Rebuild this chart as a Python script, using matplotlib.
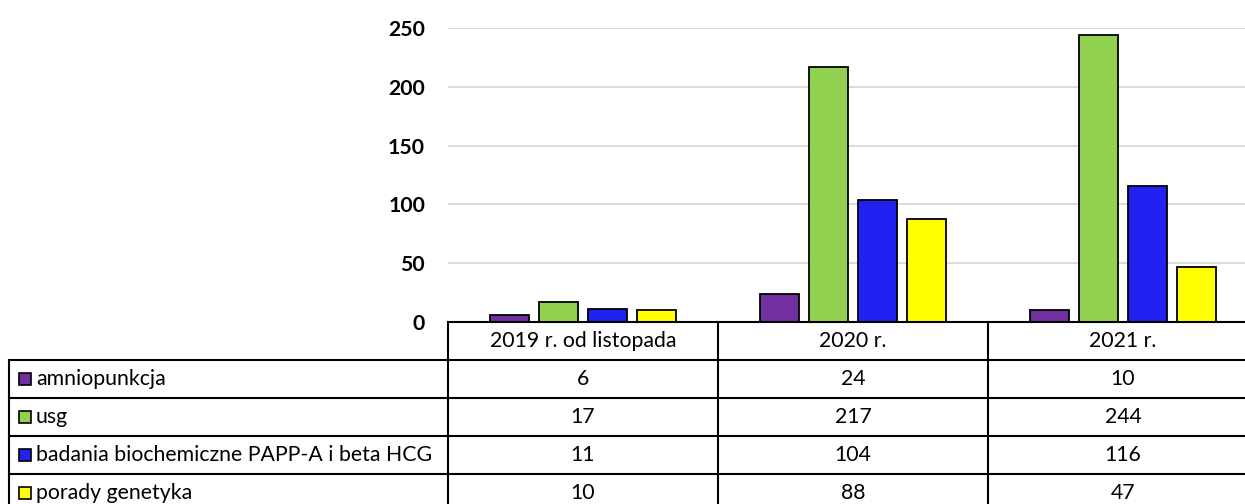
import matplotlib.pyplot as plt
from matplotlib.lines import Line2D
from matplotlib.patches import Rectangle
import numpy as np

plt.rcParams['font.family'] = ['Lato', 'DejaVu Sans']

categories = ["2019 r. od listopada", "2020 r.", "2021 r."]
series_names = ["amniopunkcja", "usg", "badania biochemiczne PAPP-A i beta HCG", "porady genetyka"]
amniopunkcja = [6, 24, 10]
usg = [17, 217, 244]
badania = [11, 104, 116]
porady = [10, 88, 47]
series = [amniopunkcja, usg, badania, porady]
colors = ["#7030A0", "#92D050", "#2121F2", "#FFFF00"]

W, H = 1245, 504
fig = plt.figure(figsize=(W / 100, H / 100), dpi=100)

# plot area in pixels (right edge runs past the image like in the original)
x0, x1 = 448, 1258
y_top, y_zero = 28, 322
ax = fig.add_axes([x0 / W, 1 - y_zero / H, (x1 - x0) / W, (y_zero - y_top) / H])

n = len(series)
bw = 39 / 270
step = 49 / 270
x = np.arange(len(categories))
for i, (vals, c) in enumerate(zip(series, colors)):
    ax.bar(x + (i - (n - 1) / 2) * step, vals, width=bw, color=c,
           edgecolor="black", linewidth=1.3, zorder=3)

ax.set_xlim(-0.5, len(categories) - 0.5)
ax.set_ylim(0, 250)
ax.set_yticks(range(0, 251, 50))
ax.set_xticks([])
ax.yaxis.grid(True, color="#D9D9D9", linewidth=1.3, zorder=0)
for s in ax.spines.values():
    s.set_visible(False)
ax.tick_params(axis="y", length=0, pad=16.5, labelsize=15.3)
for lab in ax.get_yticklabels():
    lab.set_fontweight("bold")

# data table drawn underneath the plot
def fx(px):
    return px / W

def fy(py):
    return 1 - py / H

def hline(xa, xb, py):
    fig.add_artist(Line2D([fx(xa), fx(xb)], [fy(py), fy(py)], color="black",
                          linewidth=1.5, transform=fig.transFigure))

def vline(px, ya, yb):
    fig.add_artist(Line2D([fx(px), fx(px)], [fy(ya), fy(yb)], color="black",
                          linewidth=1.5, transform=fig.transFigure))

col_w = (x1 - x0) / len(categories)
col_edges = [x0 + k * col_w for k in range(len(categories) + 1)]
left = 9
head_top, head_bot = 322, 360
row_h = 38
rows_bot = head_bot + row_h * len(series_names)
fs = 15.3

hline(x0, x1, head_top)
for k in range(len(series_names) + 1):
    hline(left, x1, head_bot + k * row_h)
vline(left, head_bot, rows_bot)
for e in col_edges[:-1]:
    vline(e, head_top, rows_bot)

for j, cat in enumerate(categories):
    fig.text(fx(x0 + (j + 0.5) * col_w), fy((head_top + head_bot) / 2), cat,
             ha="center", va="center", fontsize=fs)

for i, name in enumerate(series_names):
    cy = head_bot + (i + 0.5) * row_h
    fig.add_artist(Rectangle((fx(19), fy(cy + 6)), 12 / W, 12 / H,
                             facecolor=colors[i], edgecolor="black",
                             linewidth=1.2, transform=fig.transFigure))
    fig.text(fx(36), fy(cy), name, ha="left", va="center", fontsize=fs)
    for j in range(len(categories)):
        fig.text(fx(x0 + (j + 0.5) * col_w), fy(cy), str(series[i][j]),
                 ha="center", va="center", fontsize=fs)

fig.savefig("out.png", dpi=100)
